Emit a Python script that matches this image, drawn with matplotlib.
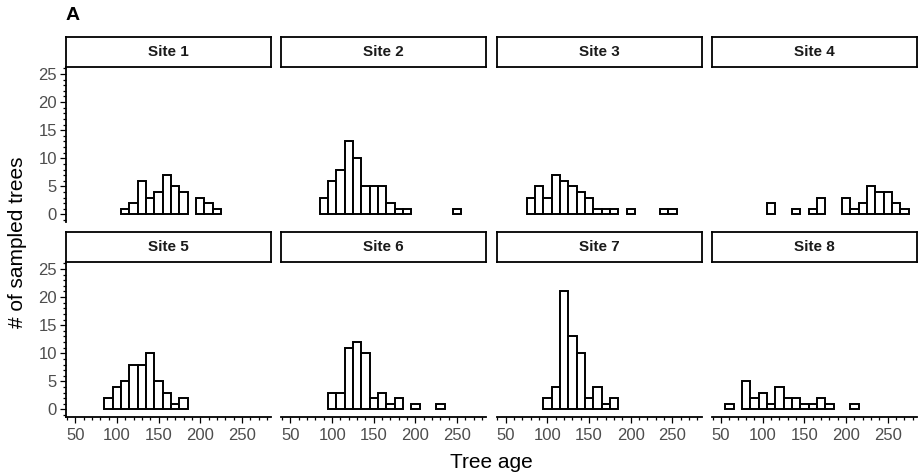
import matplotlib
matplotlib.use("Agg")
import matplotlib.pyplot as plt
from matplotlib.ticker import MultipleLocator

plt.rcParams["font.family"] = ["Liberation Sans", "DejaVu Sans"]

# bin centres (10-year bins) and tree counts per site
site1_age = [110, 120, 130, 140, 150, 160, 170, 180, 200, 210, 220]
site1_n = [1, 2, 6, 3, 4, 7, 5, 4, 3, 2, 1]
site2_age = [90, 100, 110, 120, 130, 140, 150, 160, 170, 180, 190, 250]
site2_n = [3, 6, 8, 13, 10, 5, 5, 5, 2, 1, 1, 1]
site3_age = [80, 90, 100, 110, 120, 130, 140, 150, 160, 170, 180, 200, 240, 250]
site3_n = [3, 5, 3, 7, 6, 5, 4, 3, 1, 1, 1, 1, 1, 1]
site4_age = [110, 140, 160, 170, 200, 210, 220, 230, 240, 250, 260, 270]
site4_n = [2, 1, 1, 3, 3, 1, 2, 5, 4, 4, 2, 1]
site5_age = [90, 100, 110, 120, 130, 140, 150, 160, 170, 180]
site5_n = [2, 4, 5, 8, 8, 10, 5, 3, 1, 2]
site6_age = [100, 110, 120, 130, 140, 150, 160, 170, 180, 200, 230]
site6_n = [3, 3, 11, 12, 10, 2, 3, 1, 2, 1, 1]
site7_age = [100, 110, 120, 130, 140, 150, 160, 170, 180]
site7_n = [2, 4, 21, 13, 10, 2, 4, 1, 2]
site8_age = [60, 80, 90, 100, 110, 120, 130, 140, 150, 160, 170, 180, 210]
site8_n = [1, 5, 2, 3, 1, 4, 2, 2, 1, 1, 2, 1, 1]

sites = ["Site 1", "Site 2", "Site 3", "Site 4", "Site 5", "Site 6", "Site 7", "Site 8"]
ages = [site1_age, site2_age, site3_age, site4_age, site5_age, site6_age, site7_age, site8_age]
counts = [site1_n, site2_n, site3_n, site4_n, site5_n, site6_n, site7_n, site8_n]

W, H = 918, 476
fig = plt.figure(figsize=(W / 100, H / 100), dpi=100)


def box(x0, y0, x1, y1):
    return [x0 / W, 1 - y1 / H, (x1 - x0) / W, (y1 - y0) / H]


grey = "#4D4D4D"
for i in range(8):
    row, col = divmod(i, 4)
    x0 = 66 + col * 215.3
    top = 67 + row * 195
    ax = fig.add_axes(box(x0, top, x0 + 205, top + 154.5))
    ax.bar(ages[i], counts[i], width=10, color="white", edgecolor="black", linewidth=1.4)
    ax.set_xlim(39, 285)
    ax.set_ylim(-1.25, 26.25)
    ax.patch.set_alpha(0)

    for s in ["top", "right"]:
        ax.spines[s].set_visible(False)
    ax.spines["left"].set_visible(col == 0)
    ax.spines["bottom"].set_visible(row == 1)
    ax.spines["left"].set_linewidth(1.3)
    ax.spines["bottom"].set_linewidth(1.3)

    ax.xaxis.set_major_locator(MultipleLocator(50))
    ax.xaxis.set_minor_locator(MultipleLocator(10))
    ax.yaxis.set_major_locator(MultipleLocator(5))
    ax.yaxis.set_minor_locator(MultipleLocator(1))
    ax.tick_params(which="major", length=4, width=0.9, labelsize=12, labelcolor=grey, pad=2.5)
    ax.tick_params(axis="x", which="major", pad=4)
    ax.tick_params(which="minor", length=2.2, width=0.9)
    if row == 0:
        ax.tick_params(axis="x", which="both", bottom=False, labelbottom=False)
    if col > 0:
        ax.tick_params(axis="y", which="both", left=False, labelleft=False)

    # facet strip
    sax = fig.add_axes(box(x0, top - 30, x0 + 205, top))
    sax.set_xticks([])
    sax.set_yticks([])
    for s in sax.spines.values():
        s.set_linewidth(1.3)
    sax.text(0.5, 0.5, sites[i], ha="center", va="center", fontsize=11,
             fontweight="bold", color="#1A1A1A", transform=sax.transAxes)

fig.text(66 / W, 1 - 16 / H, "A", fontsize=14, fontweight="bold", ha="left", va="center")
fig.text(18 / W, 1 - 242 / H, "# of sampled trees", rotation=90, fontsize=15,
         ha="center", va="center")
fig.text(491 / W, 1 - 462 / H, "Tree age", fontsize=15, ha="center", va="center")

fig.savefig("out.png", dpi=100)
